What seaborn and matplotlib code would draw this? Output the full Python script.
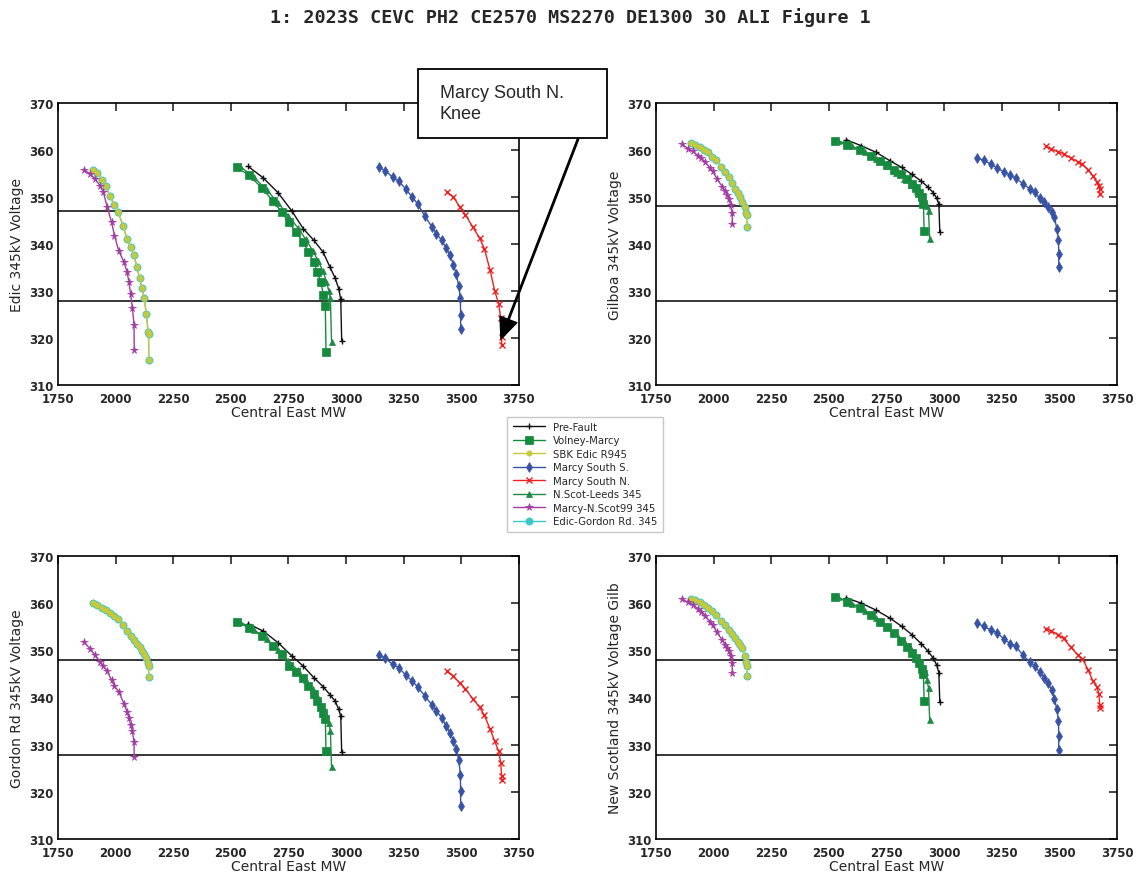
import matplotlib
matplotlib.use("Agg")
import matplotlib.pyplot as plt
from matplotlib.patches import Rectangle
import seaborn as sns

sns.set_style("white")
plt.rcParams["font.family"] = ["DejaVu Sans"]

TITLE = "1: 2023S CEVC PH2 CE2570 MS2270 DE1300 3O ALI Figure 1"
X_LABEL = "Central East MW"
Y_LABELS = ["Edic 345kV Voltage", "Gilboa 345kV Voltage",
            "Gordon Rd 345kV Voltage", "New Scotland 345kV Voltage Gilb"]
LIMIT_LINES = [(347.0, 327.8), (348.0, 327.8), (348.0, 327.8), (348.0, 327.8)]

# --- transfer steps (MW) per contingency
pre_x = [2575, 2640, 2705, 2765, 2815, 2860, 2900, 2930, 2953, 2968, 2977, 2981]
vm_x = [2525, 2580, 2635, 2682, 2720, 2752, 2783, 2814, 2837, 2860, 2876, 2891, 2902, 2910, 2913]
nsl_x = [2540, 2600, 2655, 2705, 2750, 2790, 2825, 2855, 2880, 2900, 2915, 2925, 2932, 2937]
mss_x = [3143, 3171, 3202, 3230, 3259, 3287, 3311, 3342, 3373, 3392, 3415, 3435, 3451, 3466,
         3478, 3489, 3496, 3497, 3497]
msn_x = [3440, 3465, 3495, 3518, 3550, 3580, 3600, 3625, 3645, 3662, 3671, 3675, 3675]
mns_x = [1862, 1890, 1910, 1932, 1947, 1964, 1983, 1995, 2014, 2037, 2050, 2058, 2065, 2073, 2080, 2081]
edic_x = [1902, 1921, 1941, 1957, 1975, 1994, 2011, 2033, 2050, 2065, 2079, 2093, 2104, 2115,
          2124, 2134, 2141, 2143, 2144]

# --- Edic 345kV voltage
edic_pre = [356.5, 354.1, 350.9, 347.0, 343.2, 340.8, 338.3, 335.1, 332.7, 330.5, 328.2, 319.4]
edic_vm = [356.3, 354.6, 351.9, 349.2, 346.8, 344.6, 342.5, 340.4, 338.3, 336.1, 334.0, 331.9, 329.1, 326.9, 317.0]
edic_nsl = [356.5, 354.2, 351.5, 348.8, 346.0, 343.5, 341.0, 338.6, 336.3, 334.2, 332.0, 330.0, 328.4, 319.2]
edic_mss = [356.3, 355.6, 354.2, 353.3, 351.7, 350.0, 348.5, 345.9, 343.6, 342.2, 340.8, 339.1, 337.6, 335.6,
            333.7, 331.0, 328.4, 324.8, 322.0]
edic_msn = [351.0, 350.0, 347.8, 346.2, 343.6, 341.2, 339.0, 334.4, 330.0, 327.3, 324.2, 320.2, 318.4]
edic_mns = [355.8, 354.9, 353.9, 352.4, 351.0, 347.8, 344.6, 341.8, 338.5, 336.1, 334.0, 331.9, 329.4, 326.4, 322.8, 317.4]
edic_edic = [355.8, 355.1, 353.7, 352.4, 350.3, 348.3, 346.8, 343.8, 341.0, 339.3, 337.6, 335.1, 332.7, 330.6,
             328.5, 325.0, 321.3, 320.9, 315.3]

# --- Gilboa 345kV voltage
gil_pre = [362.2, 360.9, 359.5, 357.7, 356.3, 354.8, 353.4, 352.1, 350.9, 349.7, 348.5, 342.5]
gil_vm = [362.0, 361.0, 360.0, 358.7, 357.6, 356.7, 355.8, 354.8, 353.9, 352.8, 352.0, 350.9, 350.0, 348.6, 342.7]
gil_nsl = [362.0, 360.8, 359.5, 358.0, 356.6, 355.2, 353.9, 352.6, 351.3, 350.2, 349.0, 348.0, 347.1, 341.1]
gil_mss = [358.2, 357.9, 357.0, 356.2, 355.3, 354.6, 354.0, 352.8, 351.7, 351.0, 349.7, 348.9, 347.9, 346.9,
           345.7, 343.2, 340.8, 337.8, 335.1]
gil_msn = [360.8, 360.2, 359.6, 359.2, 358.3, 357.5, 357.0, 355.8, 354.5, 353.2, 352.3, 351.6, 350.7]
gil_mns = [361.2, 360.3, 359.7, 358.8, 358.2, 357.4, 356.2, 355.5, 353.9, 352.2, 351.2, 350.5, 349.6, 348.3, 346.5, 344.3]
gil_edic = [361.4, 361.0, 360.7, 360.1, 359.5, 358.6, 357.9, 356.4, 355.3, 354.3, 353.0, 351.8, 350.9, 349.9,
            348.9, 347.8, 346.5, 346.2, 343.7]

# --- Gordon Rd 345kV voltage
gor_pre = [355.6, 354.1, 351.6, 348.8, 346.6, 344.2, 342.3, 340.6, 339.2, 337.5, 336.0, 328.4]
gor_vm = [356.0, 354.8, 353.0, 351.0, 349.3, 346.6, 345.5, 344.2, 342.5, 340.8, 339.3, 337.9, 336.7, 335.5, 328.6]
gor_nsl = [356.0, 354.4, 352.3, 350.1, 347.8, 345.8, 343.8, 341.8, 339.8, 338.0, 336.2, 334.5, 332.9, 325.2]
gor_mss = [349.0, 348.3, 347.0, 346.3, 344.7, 343.5, 342.2, 340.3, 338.4, 337.1, 335.7, 333.9, 332.5, 330.8,
           329.1, 326.8, 323.6, 320.1, 316.9]
gor_msn = [345.6, 344.5, 343.0, 341.8, 339.7, 337.9, 336.2, 333.3, 330.7, 328.6, 326.2, 323.3, 322.5]
gor_mns = [351.8, 350.3, 349.0, 347.6, 346.6, 345.6, 343.6, 342.4, 341.2, 338.6, 336.9, 335.6, 334.2, 332.8, 330.6, 327.4]
gor_edic = [360.0, 359.5, 359.0, 358.6, 357.9, 357.2, 356.6, 355.3, 354.0, 353.1, 352.2, 351.3, 350.6, 349.8,
            349.2, 348.3, 347.2, 346.6, 344.3]

# --- New Scotland 345kV voltage
nsc_pre = [361.1, 360.0, 358.5, 356.8, 355.1, 353.3, 351.4, 349.8, 348.3, 346.8, 345.2, 339.0]
nsc_vm = [361.4, 360.3, 359.0, 357.4, 356.0, 354.9, 353.6, 352.0, 350.8, 349.4, 348.3, 347.2, 346.0, 345.0, 339.3]
nsc_nsl = [361.2, 359.9, 358.4, 356.8, 355.2, 353.6, 351.9, 350.2, 348.5, 347.0, 345.5, 343.8, 342.0, 335.3]
nsc_mss = [355.7, 355.1, 354.3, 353.7, 352.4, 351.4, 350.9, 348.9, 347.5, 346.6, 345.4, 344.2, 343.0, 341.6,
           339.7, 337.5, 335.0, 331.9, 328.9]
nsc_msn = [354.6, 354.1, 353.3, 352.5, 350.6, 349.0, 348.2, 345.8, 343.5, 342.3, 340.8, 338.5, 337.8]
nsc_mns = [360.8, 360.2, 359.6, 358.8, 358.2, 357.3, 356.1, 355.4, 353.8, 352.2, 351.1, 350.5, 349.8, 348.7, 347.3, 345.2]
nsc_edic = [360.9, 360.6, 360.2, 359.6, 359.0, 358.3, 357.5, 356.2, 355.3, 354.4, 353.5, 352.5, 351.8, 351.1,
            350.4, 348.8, 347.5, 346.7, 344.5]

# name, x, marker, colour, marker size, zorder
SERIES = [
    ("Edic-Gordon Rd. 345", edic_x, "o", "#3cc8c8", 5.2, 2),
    ("Pre-Fault", pre_x, "+", "#111111", 5, 3),
    ("Volney-Marcy", vm_x, "s", "#138a3c", 5.2, 3),
    ("SBK Edic R945", edic_x, "o", "#c8c83a", 3.8, 3),
    ("Marcy South S.", mss_x, "d", "#3853a4", 5.2, 3),
    ("Marcy South N.", msn_x, "x", "#ee2020", 4.5, 3),
    ("N.Scot-Leeds 345", nsl_x, "^", "#1f8a45", 5, 3),
    ("Marcy-N.Scot99 345", mns_x, "*", "#a23ca2", 5.5, 3),
]
PANEL_Y = [
    {"Pre-Fault": edic_pre, "Volney-Marcy": edic_vm, "SBK Edic R945": edic_edic, "Marcy South S.": edic_mss,
     "Marcy South N.": edic_msn, "N.Scot-Leeds 345": edic_nsl, "Marcy-N.Scot99 345": edic_mns,
     "Edic-Gordon Rd. 345": edic_edic},
    {"Pre-Fault": gil_pre, "Volney-Marcy": gil_vm, "SBK Edic R945": gil_edic, "Marcy South S.": gil_mss,
     "Marcy South N.": gil_msn, "N.Scot-Leeds 345": gil_nsl, "Marcy-N.Scot99 345": gil_mns,
     "Edic-Gordon Rd. 345": gil_edic},
    {"Pre-Fault": gor_pre, "Volney-Marcy": gor_vm, "SBK Edic R945": gor_edic, "Marcy South S.": gor_mss,
     "Marcy South N.": gor_msn, "N.Scot-Leeds 345": gor_nsl, "Marcy-N.Scot99 345": gor_mns,
     "Edic-Gordon Rd. 345": gor_edic},
    {"Pre-Fault": nsc_pre, "Volney-Marcy": nsc_vm, "SBK Edic R945": nsc_edic, "Marcy South S.": nsc_mss,
     "Marcy South N.": nsc_msn, "N.Scot-Leeds 345": nsc_nsl, "Marcy-N.Scot99 345": nsc_mns,
     "Edic-Gordon Rd. 345": nsc_edic},
]
LEGEND_ORDER = ["Pre-Fault", "Volney-Marcy", "SBK Edic R945", "Marcy South S.", "Marcy South N.",
                "N.Scot-Leeds 345", "Marcy-N.Scot99 345", "Edic-Gordon Rd. 345"]

fig = plt.figure(figsize=(11.41, 8.79), dpi=100)
boxes = [[0.0508, 0.5609, 0.404, 0.3208], [0.5750, 0.5609, 0.404, 0.3208],
         [0.0508, 0.0444, 0.404, 0.3220], [0.5750, 0.0444, 0.404, 0.3220]]

axes = []
for i, box in enumerate(boxes):
    ax = fig.add_axes(box)
    axes.append(ax)
    for name, xs, mk, col, ms, zo in SERIES:
        sns.lineplot(x=xs, y=PANEL_Y[i][name], ax=ax, sort=False, estimator=None, color=col,
                     marker=mk, markersize=ms, markeredgecolor=col, markeredgewidth=1.0 if mk in "+x" else 0.5,
                     linewidth=1.0, zorder=zo, label=name if i == 0 else None)
    for yv in LIMIT_LINES[i]:
        ax.axhline(yv, color="black", linewidth=1.1, zorder=1)
    ax.set_xlim(1750, 3750)
    ax.set_ylim(310, 370)
    ax.set_xticks(range(1750, 3751, 250))
    ax.set_yticks(range(310, 371, 10))
    ax.tick_params(direction="in", length=6, width=1.2, top=True, right=True, labelsize=8.5)
    ax.tick_params(axis="x", pad=5)
    ax.tick_params(axis="y", pad=3)
    for lab in ax.get_xticklabels() + ax.get_yticklabels():
        lab.set_fontweight("bold")
    for sp in ax.spines.values():
        sp.set_linewidth(1.2)
        sp.set_color("black")
    ax.set_xlabel(X_LABEL, fontsize=10, labelpad=0)
    ax.set_ylabel(Y_LABELS[i], fontsize=10, labelpad=4)
    if ax.get_legend() is not None:
        ax.get_legend().remove()

h, l = axes[0].get_legend_handles_labels()
hmap = dict(zip(l, h))
fig.legend([hmap[n] for n in LEGEND_ORDER], LEGEND_ORDER, loc="center",
           bbox_to_anchor=(0.5127, 0.4596), fontsize=7.3, frameon=True, handlelength=3.2,
           labelspacing=0.35, borderpad=0.5, edgecolor="#bbbbbb", fancybox=False)

fig.text(0.5, 0.98, TITLE, ha="center", va="center", fontsize=13.2, fontweight="bold",
         family="DejaVu Sans Mono")

# annotation box with arrow to the knee
fig.patches.append(Rectangle((0.3663, 0.8419), 0.1656, 0.0785, transform=fig.transFigure,
                             facecolor="white", edgecolor="black", linewidth=1.3, zorder=5))
fig.text(0.3856, 0.8817, "Marcy South N.\nKnee", ha="left", va="center", fontsize=13,
         family="Liberation Sans", linespacing=1.35, zorder=6)
axes[0].annotate("", xy=(3672, 319.8), xycoords="data", xytext=(0.5066, 0.8407),
                 textcoords="figure fraction", annotation_clip=False,
                 arrowprops=dict(facecolor="black", edgecolor="black", width=1.0,
                                 headwidth=13, headlength=15, shrink=0.0))

fig.savefig("out.png", dpi=100)
